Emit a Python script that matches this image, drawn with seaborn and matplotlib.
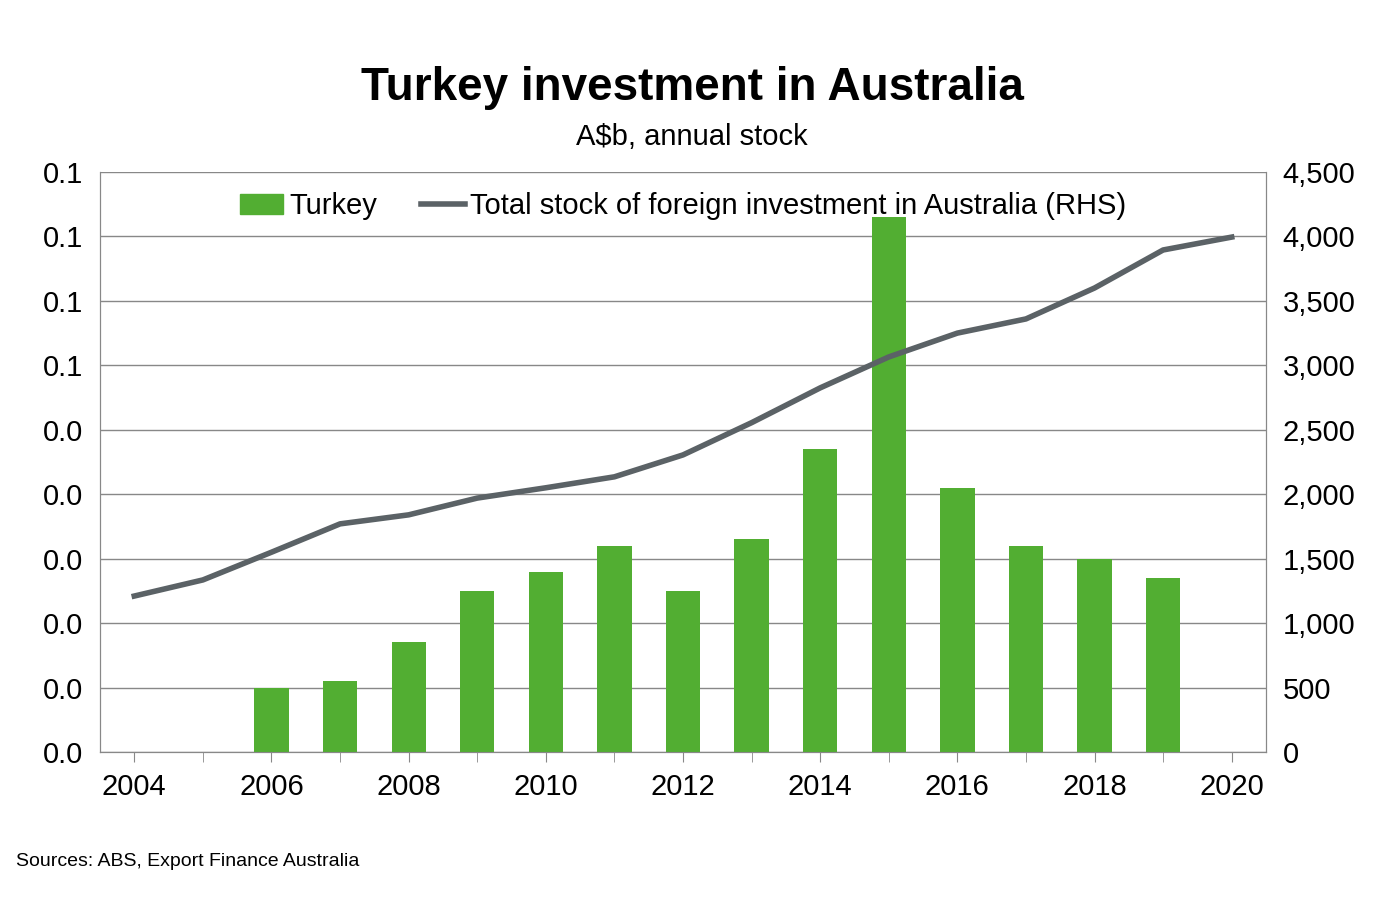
import matplotlib
matplotlib.use("Agg")
import matplotlib.pyplot as plt
import seaborn as sns
import pandas as pd
from matplotlib.ticker import FuncFormatter, MultipleLocator

bar_years = [2006, 2007, 2008, 2009, 2010, 2011, 2012, 2013, 2014, 2015, 2016, 2017, 2018, 2019]
turkey = [0.010, 0.011, 0.017, 0.025, 0.028, 0.032, 0.025, 0.033, 0.047, 0.083, 0.041, 0.032, 0.030, 0.027]
line_years = list(range(2004, 2021))
total = [1210, 1335, 1550, 1770, 1840, 1970, 2050, 2135, 2305, 2555, 2825, 3065, 3250, 3360, 3600, 3895, 3995]

plt.rcParams["font.family"] = "Liberation Sans"
fig = plt.figure(figsize=(13.84, 9.09), dpi=100)
ax = fig.add_axes([100/1384, 1-752/909, 1166/1384, 580/909])
ax2 = ax.twinx()
gray = "#888888"
green = "#52AE32"
lc = "#5B6266"

df = pd.DataFrame({"year": bar_years, "v": turkey})
sns.barplot(data=df, x="year", y="v", native_scale=True, width=0.5, color=green, saturation=1, ax=ax, label="Turkey", zorder=3)
ld = pd.DataFrame({"year": line_years, "t": total})
sns.lineplot(data=ld, x="year", y="t", color=lc, lw=4, ax=ax2, zorder=4)

ax.set_xlim(2003.5, 2020.5)
ax.set_ylim(0, 0.09)
ax.yaxis.set_major_locator(MultipleLocator(0.01))
ax.yaxis.set_major_formatter(FuncFormatter(lambda v, p: "%.1f" % v))
ax2.set_ylim(0, 4500)
ax2.yaxis.set_major_locator(MultipleLocator(500))
ax2.yaxis.set_major_formatter(FuncFormatter(lambda v, p: f"{int(round(v)):,}"))
ax.set_xticks(range(2004, 2021, 2))
ax.set_xticks(range(2004, 2021), minor=True)
ax.grid(axis="y", color=gray, lw=1, zorder=0)
ax.set_axisbelow(True)
for a in (ax, ax2):
    a.set_xlabel(""); a.set_ylabel("")
    for s in a.spines.values():
        s.set_color(gray)
    a.spines["top"].set_visible(False)
ax.tick_params(axis="y", length=0, labelsize=21, pad=12)
ax2.tick_params(axis="y", length=0, labelsize=21, pad=12)
ax.tick_params(axis="x", which="both", length=7, color=gray, labelsize=21, pad=8)
ax.tick_params(axis="x", which="minor", length=7)
ax.set_zorder(ax2.get_zorder() - 1) if False else None

from matplotlib.patches import Patch
from matplotlib.lines import Line2D
handles = [Patch(color=green, label="Turkey"),
           Line2D([], [], color=lc, lw=4, label="Total stock of foreign investment in Australia (RHS)")]
if ax.get_legend(): ax.get_legend().remove()
if ax2.get_legend(): ax2.get_legend().remove()
ax2.legend(handles=handles, loc="upper center", ncol=2, frameon=False, fontsize=21,
           bbox_to_anchor=(0.5, 1.01), handlelength=1.5, handletextpad=0.2, columnspacing=1.5)

fig.text(0.5, 1-88/909, "Turkey investment in Australia", ha="center", va="center", fontsize=33, weight="bold")
fig.text(0.5, 1-137/909, "A$b, annual stock", ha="center", va="center", fontsize=21)
fig.text(16/1384, 1-862/909, "Sources: ABS, Export Finance Australia", ha="left", va="center", fontsize=14)
fig.savefig("out.png", dpi=100)
